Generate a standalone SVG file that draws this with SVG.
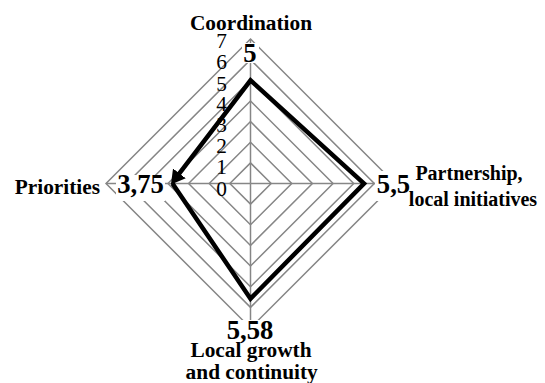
<svg xmlns="http://www.w3.org/2000/svg" width="545" height="383" viewBox="0 0 545 383">
<style>
.ring{fill:none;stroke:#868686;stroke-width:1.5}
.axis{stroke:#868686;stroke-width:1.5}
.tick{font-family:"Liberation Serif","Times New Roman",serif;font-size:21.33px;fill:#000;text-anchor:middle}
.cat{font-family:"Liberation Serif","Times New Roman",serif;font-size:21.33px;font-weight:bold;fill:#000}
.val{font-family:"Liberation Serif","Times New Roman",serif;font-size:26.67px;font-weight:bold;fill:#000;text-anchor:middle}
.lblbg{fill:#fff}
.series{fill:none;stroke:#000;stroke-width:4.5;stroke-linejoin:miter}
</style>
<defs>
<marker id="arrow" markerUnits="userSpaceOnUse" markerWidth="20" markerHeight="20" viewBox="0 -10 20 20" refX="1" refY="0" orient="auto">
<path d="M0,-8 L14,0 L0,8 z" fill="#000"/>
</marker>
</defs>
<g id="grid">
<polygon class="ring" points="250.5,162.86 271.14,183.5 250.5,204.14 229.86,183.5"/>
<polygon class="ring" points="250.5,142.22 291.78,183.5 250.5,224.78 209.22,183.5"/>
<polygon class="ring" points="250.5,121.58 312.42,183.5 250.5,245.42 188.58,183.5"/>
<polygon class="ring" points="250.5,100.94 333.06,183.5 250.5,266.06 167.94,183.5"/>
<polygon class="ring" points="250.5,80.3 353.7,183.5 250.5,286.7 147.3,183.5"/>
<polygon class="ring" points="250.5,59.66 374.34,183.5 250.5,307.34 126.66,183.5"/>
<polygon class="ring" points="250.5,39.02 394.98,183.5 250.5,327.98 106.02,183.5"/>
<line class="axis" x1="250.5" y1="183.5" x2="250.5" y2="39.02"/>
<line class="axis" x1="250.5" y1="183.5" x2="394.98" y2="183.5"/>
<line class="axis" x1="250.5" y1="183.5" x2="250.5" y2="327.98"/>
<line class="axis" x1="250.5" y1="183.5" x2="106.02" y2="183.5"/>
</g>
<g id="ticks">
<text class="tick" x="221.5" y="195.5">0</text>
<text class="tick" x="221.5" y="174.4">1</text>
<text class="tick" x="221.5" y="153.2">2</text>
<text class="tick" x="221.5" y="132.1">3</text>
<text class="tick" x="221.5" y="110.9">4</text>
<text class="tick" x="221.5" y="90.5">5</text>
<text class="tick" x="221.5" y="69">6</text>
<text class="tick" x="221.5" y="47.5">7</text>
</g>
<g id="connectors">
<path class="series" d="M172.5,183.5 L250.5,298.67 L364.02,183.5 L250.5,80.3 L178.8,174.2" marker-end="url(#arrow)"/>
</g>
<g id="coordination">
<text class="cat" x="251" y="30" text-anchor="middle">Coordination</text>
<rect class="lblbg" x="242" y="43" width="17" height="20"/>
<text class="val" x="250" y="61.5">5</text>
</g>
<g id="partnership">
<rect class="lblbg" x="375" y="171" width="37" height="30"/>
<text class="val" x="393.5" y="193.3">5,5</text>
<text class="cat" x="469" y="179.5" text-anchor="middle" style="font-size:20px">Partnership,</text>
<text class="cat" x="473" y="205.5" text-anchor="middle" style="font-size:20px">local initiatives</text>
</g>
<g id="local-growth">
<rect class="lblbg" x="224" y="320" width="52" height="24"/>
<text class="val" x="250" y="339">5,58</text>
<text class="cat" x="251" y="357" text-anchor="middle">Local growth</text>
<text class="cat" x="251.7" y="378.5" text-anchor="middle">and continuity</text>
</g>
<g id="priorities">
<text class="cat" x="100" y="193.5" text-anchor="end">Priorities</text>
<rect class="lblbg" x="116" y="175" width="49" height="26"/>
<text class="val" x="140.5" y="193.3">3,75</text>
</g>
</svg>
